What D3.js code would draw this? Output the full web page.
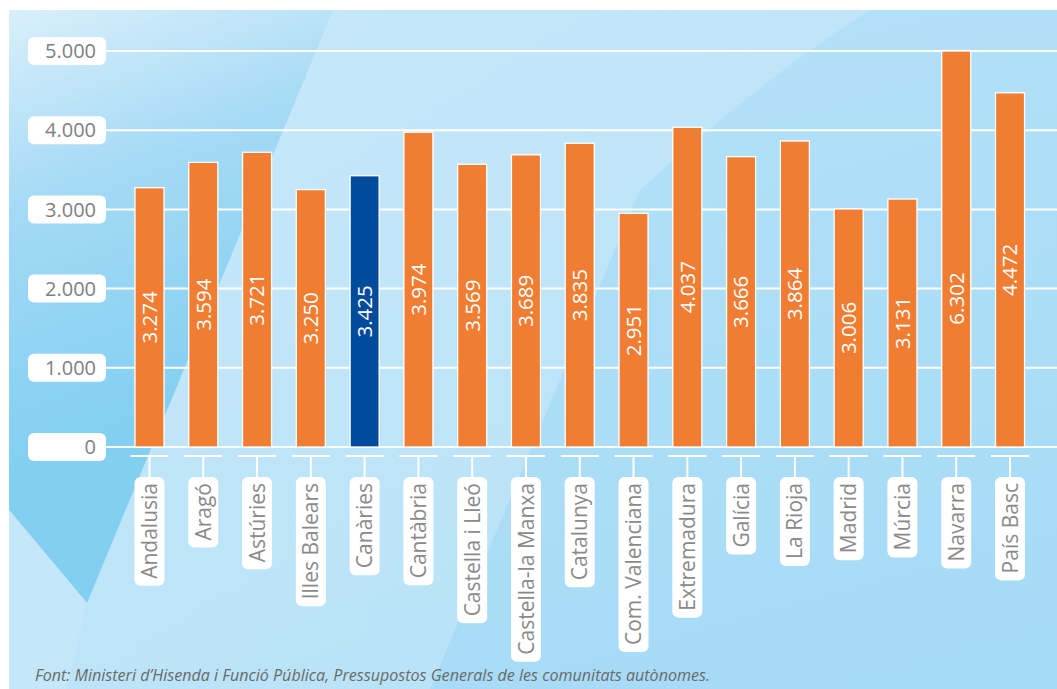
<!DOCTYPE html>
<html>
<head>
<meta charset="utf-8">
<script src="https://cdn.jsdelivr.net/npm/d3@7"></script>
<style>
  html, body { margin: 0; padding: 0; background: #ffffff; }
  svg { display: block; }
</style>
</head>
<body>
<svg id="chart" width="1057" height="689"></svg>
<script>
// Despesa per habitant de les comunitats autònomes (euros)
const regions = [
  "Andalusia", "Aragó", "Astúries", "Illes Balears", "Canàries", "Cantàbria",
  "Castella i Lleó", "Castella-la Manxa", "Catalunya", "Com. Valenciana",
  "Extremadura", "Galícia", "La Rioja", "Madrid", "Múrcia", "Navarra", "País Basc"
];
const spending = [
  3274, 3594, 3721, 3250, 3425, 3974,
  3569, 3689, 3835, 2951,
  4037, 3666, 3864, 3006, 3131, 6302, 4472
];
const highlighted = ["Canàries"];
const yTicks = [0, 1000, 2000, 3000, 4000, 5000];
const sourceNote = "Font: Ministeri d\u2019Hisenda i Funció Pública, Pressupostos Generals de les comunitats autònomes.";

const fmt = d3.formatLocale({ decimal: ",", thousands: ".", grouping: [3], currency: ["", "€"] }).format(",d");

const svg = d3.select("#chart");
const W = 1057, H = 689;
const defs = svg.append("defs");

function gradient(id, x1, y1, x2, y2, stops) {
  const g = defs.append("linearGradient").attr("id", id)
    .attr("gradientUnits", "userSpaceOnUse")
    .attr("x1", x1).attr("y1", y1).attr("x2", x2).attr("y2", y2);
  stops.forEach(([o, c, a]) => g.append("stop").attr("offset", o)
    .attr("stop-color", c).attr("stop-opacity", a == null ? 1 : a));
}

// ---- panel background: blue field with glossy diagonal facets ----
gradient("baseGrad", 9, 0, 1057, 0, [[0, "#bde4f9"], [0.5, "#b4e0f8"], [1, "#a6daf6"]]);
gradient("leftFacet", 9, 10, 160, 420, [[0, "#d9effb"], [0.45, "#a3d9f5"], [1, "#82cff2"]]);
gradient("bandFacet", 333, 10, 600, 600, [[0, "#c8e8fa"], [1, "#bae3f8"]]);
gradient("rightFacet", 870, 10, 1057, 689, [[0, "#b2e0f8"], [1, "#a5daf5"]]);

const panel = svg.append("g");
panel.append("rect").attr("x", 9).attr("y", 10).attr("width", W - 9).attr("height", H - 10)
  .attr("fill", "url(#baseGrad)");
panel.append("path").attr("d", "M870,10 L1057,10 L1057,689 L430,689 L640,190 Q760,80 870,10 Z")
  .attr("fill", "url(#rightFacet)");
panel.append("path").attr("d", "M333,10 L870,10 Q760,80 640,190 L430,689 L67,689 L87,603 Z")
  .attr("fill", "url(#bandFacet)").attr("opacity", 0.85);
panel.append("path").attr("d", "M9,10 L333,10 L87,603 L9,510 Z")
  .attr("fill", "url(#leftFacet)");
panel.append("path").attr("d", "M9,510 L87,603 L67,689 L9,689 Z")
  .attr("fill", "#c4e7f9");

// ---- scales ----
const x = d3.scaleBand().domain(regions).range([122.6, 1036.9])
  .paddingInner(0.46).paddingOuter(0.23);
const y = d3.scaleLinear().domain([0, 5000]).range([447, 51]).clamp(true);

// ---- y axis: gridlines with boxed labels ----
const yAxis = svg.append("g").attr("class", "y-axis");
const yTick = yAxis.selectAll("g").data(yTicks).join("g")
  .attr("transform", d => `translate(0,${y(d)})`);
yTick.append("line").attr("x1", 100).attr("x2", W)
  .attr("stroke", "#ffffff").attr("stroke-width", 2);
yTick.append("rect").attr("x", 28).attr("y", -14).attr("width", 78).attr("height", 28)
  .attr("rx", 6).attr("fill", "#ffffff");
yTick.append("text").attr("x", 96).attr("y", 0).attr("dy", "0.36em")
  .attr("text-anchor", "end")
  .attr("font-family", "'Open Sans', sans-serif").attr("font-size", 20)
  .attr("fill", "#808080")
  .text(d => fmt(d));

// ---- bars ----
const bars = svg.append("g").attr("class", "bars");
const data = regions.map((r, i) => ({ region: r, value: spending[i] }));
bars.selectAll("rect").data(data).join("rect")
  .attr("x", d => x(d.region))
  .attr("width", x.bandwidth())
  .attr("y", d => y(d.value))
  .attr("height", d => y(0) - y(d.value))
  .attr("fill", d => highlighted.includes(d.region) ? "#004b9b" : "#f07d32")
  .attr("stroke", "#ffffff").attr("stroke-width", 1.3);

// value labels, rotated, centred on the bar (taller-than-axis bars: on its lower part)
const labelY = d => d.value > y.domain()[1]
  ? y(d3.mean([0, y.domain()[1] * 0.75]))
  : (y(0) + y(d.value)) / 2;
bars.selectAll("text").data(data).join("text")
  .attr("transform", d => `translate(${x(d.region) + x.bandwidth() / 2},${labelY(d)}) rotate(-90)`)
  .attr("text-anchor", "middle").attr("dy", "0.36em")
  .attr("font-family", "'Open Sans', sans-serif").attr("font-size", 20.5)
  .attr("fill", "#ffffff")
  .text(d => fmt(d.value));

// ---- x axis: tick brackets and boxed rotated labels ----
const xAxis = svg.append("g").attr("class", "x-axis");
const xTick = xAxis.selectAll("g").data(regions).join("g")
  .attr("transform", d => `translate(${x(d) + x.bandwidth() / 2},0)`);
xTick.append("line").attr("x1", -19).attr("x2", 19).attr("y1", 456).attr("y2", 456)
  .attr("stroke", "#ffffff").attr("stroke-width", 2);
xTick.append("line").attr("x1", 0).attr("x2", 0).attr("y1", 456).attr("y2", 478)
  .attr("stroke", "#ffffff").attr("stroke-width", 2);
const boxes = xTick.append("rect").attr("x", -15).attr("y", 477).attr("width", 30)
  .attr("rx", 6).attr("fill", "#ffffff");
const labels = xTick.append("text")
  .attr("transform", "translate(0,483) rotate(-90)")
  .attr("text-anchor", "end").attr("dy", "0.36em")
  .attr("font-family", "'Open Sans', sans-serif").attr("font-size", 21)
  .attr("fill", "#8a8a8a")
  .text(d => d);
labels.each(function (d, i) {
  const len = this.getComputedTextLength();
  d3.select(boxes.nodes()[i]).attr("height", len + 13);
});

// ---- source note ----
svg.append("text").attr("x", 35).attr("y", 681)
  .attr("font-family", "'Open Sans', sans-serif").attr("font-style", "italic")
  .attr("font-size", 16).attr("fill", "#6a6a6a")
  .attr("textLength", 675).attr("lengthAdjust", "spacingAndGlyphs")
  .text(sourceNote);
</script>
</body>
</html>
